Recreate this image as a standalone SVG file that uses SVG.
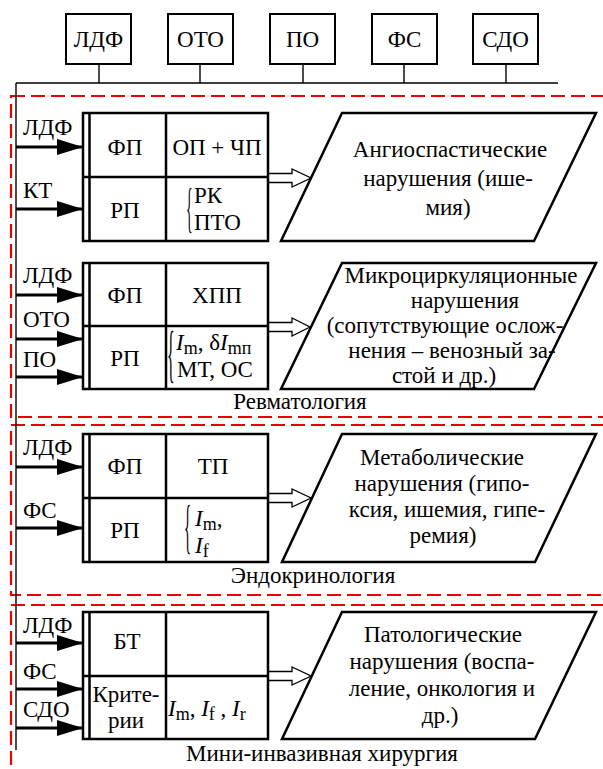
<svg xmlns="http://www.w3.org/2000/svg" width="603" height="769" viewBox="0 0 603 769" font-family="'Liberation Serif', 'Times New Roman', 'DejaVu Serif', serif">
<style>
text{font-family:'Liberation Serif','Times New Roman','DejaVu Serif',serif;font-size:23px;fill:#000}
.c{text-anchor:middle}
.box{fill:#fff;stroke:#000;stroke-width:2}
.tbl{fill:#fff;stroke:#000;stroke-width:2.5}
.ln{stroke:#000;stroke-width:2.5;fill:none}
.thin{stroke:#000;stroke-width:1.4;fill:none}
.par{fill:#fff;stroke:#000;stroke-width:2.5}
.red{fill:none;stroke:#e00;stroke-width:2.2;stroke-dasharray:14 6}
.shaft{stroke:#000;stroke-width:3}
.hollow{fill:#fff;stroke:#000;stroke-width:1.3}
.i{font-style:italic}
.s{font-size:18px}
.br{opacity:0.99}
</style>
<defs>
<marker id="ah" markerUnits="userSpaceOnUse" markerWidth="27" markerHeight="16" refX="26" refY="8" orient="auto">
<path d="M0,0 L26,8 L0,16 Z" fill="#000"/>
</marker>
</defs>

<g id="sections">
<rect class="red" x="11" y="96" width="650" height="321"/>
<rect class="red" x="11" y="425" width="650" height="170"/>
<rect class="red" x="11" y="605" width="650" height="220"/>
</g>

<g id="top-ldf"><rect class="box" x="66" y="14" width="65" height="50"/><text class="c" x="98.5" y="47">ЛДФ</text></g>
<g id="top-oto"><rect class="box" x="168" y="14" width="65" height="50"/><text class="c" x="200.5" y="47">ОТО</text></g>
<g id="top-po"><rect class="box" x="270" y="14" width="65" height="50"/><text class="c" x="302.5" y="47">ПО</text></g>
<g id="top-fs"><rect class="box" x="372" y="14" width="65" height="50"/><text class="c" x="404.5" y="47">ФС</text></g>
<g id="top-sdo"><rect class="box" x="473" y="14" width="65" height="50"/><text class="c" x="505.5" y="47">СДО</text></g>

<g id="connectors">
<path class="thin" d="M99,64V83 M200,64V83 M303,64V83 M404,64V83 M506,64V83 M16,83H558 M16,83V750"/>
<g class="shaft">
<line x1="16" y1="147" x2="83" y2="147" marker-end="url(#ah)"/>
<line x1="16" y1="209" x2="83" y2="209" marker-end="url(#ah)"/>
<line x1="16" y1="295" x2="83" y2="295" marker-end="url(#ah)"/>
<line x1="16" y1="339" x2="83" y2="339" marker-end="url(#ah)"/>
<line x1="16" y1="377" x2="83" y2="377" marker-end="url(#ah)"/>
<line x1="16" y1="467" x2="83" y2="467" marker-end="url(#ah)"/>
<line x1="16" y1="528" x2="83" y2="528" marker-end="url(#ah)"/>
<line x1="16" y1="643" x2="83" y2="643" marker-end="url(#ah)"/>
<line x1="16" y1="689" x2="83" y2="689" marker-end="url(#ah)"/>
<line x1="16" y1="728" x2="83" y2="728" marker-end="url(#ah)"/>
</g>
<path class="hollow" d="M268,173.5H292V169L311,178L292,187V182.5H268"/>
<path class="hollow" d="M268,322.5H292V318L310,327L292,336V331.5H268"/>
<path class="hollow" d="M268,493.5H292V489L311,498L292,507V502.5H268"/>
<path class="hollow" d="M268,671.5H292V667L311,676L292,685V680.5H268"/>
</g>

<g id="inputs">
<text x="23" y="135">ЛДФ</text>
<text x="23" y="198">КТ</text>
<text x="23" y="283">ЛДФ</text>
<text x="23" y="327">ОТО</text>
<text x="23" y="367">ПО</text>
<text x="23" y="455">ЛДФ</text>
<text x="23" y="518">ФС</text>
<text x="23" y="633">ЛДФ</text>
<text x="23" y="679">ФС</text>
<text x="23" y="717">СДО</text>
</g>

<g id="table1">
<rect class="tbl" x="83" y="113" width="185" height="128"/>
<path class="ln" d="M89.5,113V241 M166,113V241 M83,177H268"/>
<text class="c" x="125" y="155">ФП</text>
<text class="c" x="217" y="155">ОП + ЧП</text>
<text class="c" x="125" y="218">РП</text>
<text class="br" transform="translate(186,226) scale(0.25,1)" style="font-size:55px">{</text>
<text x="194" y="203">РК</text>
<text x="194" y="230">ПТО</text>
</g>

<g id="result1">
<polygon class="par" points="342,113 596,113 534,241 281,241"/>
<text class="c" x="450" y="157">Ангиоспастические</text>
<text class="c" x="448" y="186">нарушения (ише-</text>
<text class="c" x="448" y="215">мия)</text>
</g>

<g id="table2">
<rect class="tbl" x="83" y="263" width="185" height="126"/>
<path class="ln" d="M89.5,263V389 M166,263V389 M83,326H268"/>
<text class="c" x="125" y="303">ФП</text>
<text class="c" x="217" y="303">ХПП</text>
<text class="c" x="125" y="366">РП</text>
<text class="br" transform="translate(167,375) scale(0.25,1)" style="font-size:64px">{</text>
<text x="176" y="350"><tspan class="i">I</tspan><tspan class="s" dy="4">m</tspan><tspan dy="-4">, δ</tspan><tspan class="i">I</tspan><tspan class="s" dy="4">mп</tspan></text>
<text x="177" y="377">МТ, ОС</text>
</g>

<g id="result2">
<polygon class="par" points="342,263 596,263 534,389 281,389"/>
<text class="c" x="461" y="283">Микроциркуляционные</text>
<text class="c" x="465" y="308">нарушения</text>
<text class="c" x="445" y="333">(сопутствующие ослож-</text>
<text class="c" x="452" y="358">нения – венозный за-</text>
<text class="c" x="444" y="383">стой и др.)</text>
</g>

<text class="c" x="300" y="409">Ревматология</text>

<g id="table3">
<rect class="tbl" x="83" y="434" width="185" height="128"/>
<path class="ln" d="M89.5,434V562 M166,434V562 M83,498H268"/>
<text class="c" x="125" y="474">ФП</text>
<text class="c" x="213" y="474">ТП</text>
<text class="c" x="125" y="538">РП</text>
<text class="br" transform="translate(184,546) scale(0.25,1)" style="font-size:60px">{</text>
<text x="195" y="526"><tspan class="i">I</tspan><tspan class="s" dy="4">m</tspan><tspan dy="-4">,</tspan></text>
<text x="195" y="553"><tspan class="i">I</tspan><tspan class="s" dy="4">f</tspan></text>
</g>

<g id="result3">
<polygon class="par" points="342,434 596,434 535,562 282,562"/>
<text class="c" x="442" y="465">Метаболические</text>
<text class="c" x="442" y="491">нарушения (гипо-</text>
<text class="c" x="447" y="517">ксия, ишемия, гипе-</text>
<text class="c" x="443" y="543">ремия)</text>
</g>

<text class="c" x="313" y="583">Эндокринология</text>

<g id="table4">
<rect class="tbl" x="83" y="612" width="185" height="127"/>
<path class="ln" d="M89.5,612V739 M166,612V739 M83,676H268"/>
<text class="c" x="127" y="649">БТ</text>
<text class="c" x="126" y="702">Крите-</text>
<text class="c" x="126" y="728">рии</text>
<text x="168" y="716"><tspan class="i">I</tspan><tspan class="s" dy="4">m</tspan><tspan dy="-4">, </tspan><tspan class="i">I</tspan><tspan class="s" dy="4">f</tspan><tspan dy="-4"> , </tspan><tspan class="i">I</tspan><tspan class="s" dy="4">r</tspan></text>
</g>

<g id="result4">
<polygon class="par" points="342,612 596,612 535,739 282,739"/>
<text class="c" x="443" y="642">Патологические</text>
<text class="c" x="442" y="669">нарушения (воспа-</text>
<text class="c" x="442" y="696">ление, онкология и</text>
<text class="c" x="440" y="723">др.)</text>
</g>

<text class="c" x="322" y="761">Мини-инвазивная хирургия</text>
</svg>
